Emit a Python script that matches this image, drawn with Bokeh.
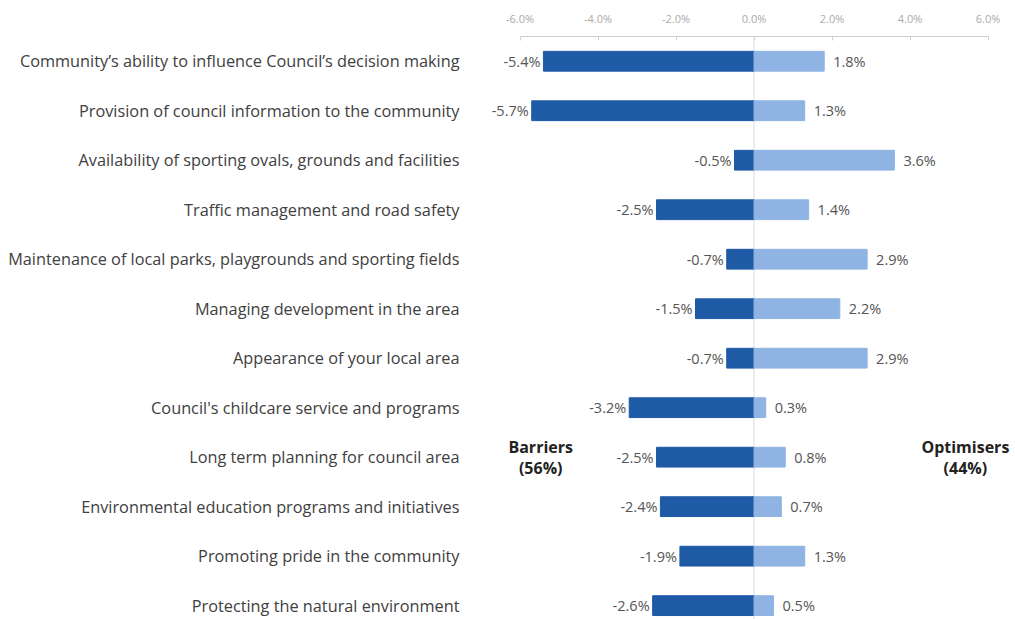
from bokeh.plotting import figure
from bokeh.models import ColumnDataSource, Range1d, FixedTicker, Span, Label, NumeralTickFormatter
from bokeh.core.properties import value
from bokeh.embed import file_html
from bokeh.resources import INLINE

categories = [
    "Community\u2019s ability to influence Council\u2019s decision making",
    "Provision of council information to the community",
    "Availability of sporting ovals, grounds and facilities",
    "Traffic management and road safety",
    "Maintenance of local parks, playgrounds and sporting fields",
    "Managing development in the area",
    "Appearance of your local area",
    "Council's childcare service and programs",
    "Long term planning for council area",
    "Environmental education programs and initiatives",
    "Promoting pride in the community",
    "Protecting the natural environment",
]
barriers = [-5.4, -5.7, -0.5, -2.5, -0.7, -1.5, -0.7, -3.2, -2.5, -2.4, -1.9, -2.6]
optimisers = [1.8, 1.3, 3.6, 1.4, 2.9, 2.2, 2.9, 0.3, 0.8, 0.7, 1.3, 0.5]
axis_ticks = [-6, -4, -2, 0, 2, 4, 6]

FONT = "Open Sans"
DARK = "#1f5aa6"
LIGHT = "#8fb3e2"

ypos = list(range(len(categories)))
src = ColumnDataSource(dict(
    y=ypos,
    neg=barriers,
    pos=optimisers,
    neg_lbl=[f"{v:.1f}%" for v in barriers],
    pos_lbl=[f"{v:.1f}%" for v in optimisers],
))

p = figure(width=1015, height=619, output_backend="svg", toolbar_location=None,
           x_range=Range1d(-7.27, 6.705), y_range=Range1d(11.28, -0.5),
           x_axis_location="above", min_border_left=470, min_border_top=36,
           min_border_right=0, min_border_bottom=0, outline_line_color=None)

p.add_layout(Span(location=0, dimension="height", line_color="#dcdcdc", line_width=1, level="underlay"))

p.hbar(y="y", left=0, right="neg", height=0.4, color=DARK, source=src)
p.hbar(y="y", left=0, right="pos", height=0.4, color=LIGHT, source=src)

p.text(x="neg", y="y", text="neg_lbl", source=src, text_align="right", text_baseline="middle",
       x_offset=-3, text_font=value(FONT), text_font_size="14.5px", text_color="#555555")
p.text(x="pos", y="y", text="pos_lbl", source=src, text_align="left", text_baseline="middle",
       x_offset=9, text_font=value(FONT), text_font_size="14.5px", text_color="#555555")

p.add_layout(Label(x=-5.47, y=8, text="Barriers\n(56%)", text_align="center", text_baseline="middle",
                   text_font=FONT, text_font_size="16px", text_font_style="bold", text_color="#222222",
                   text_line_height=0.95))
p.add_layout(Label(x=5.42, y=8, text="Optimisers\n(44%)", text_align="center", text_baseline="middle",
                   text_font=FONT, text_font_size="16px", text_font_style="bold", text_color="#222222",
                   text_line_height=0.95))

xa = p.xaxis[0]
xa.ticker = FixedTicker(ticks=axis_ticks)
xa.bounds = (-6, 6)
xa.formatter = NumeralTickFormatter(format="0.0")
xa.major_label_overrides = {t: f"{t:.1f}%" for t in axis_ticks}
xa.axis_line_color = "#d0d0d0"
xa.major_tick_line_color = "#d0d0d0"
xa.major_tick_in = 4
xa.major_tick_out = 0
xa.minor_tick_line_color = None
xa.major_label_standoff = 11
xa.major_label_text_font = FONT
xa.major_label_text_font_size = "11px"
xa.major_label_text_color = "#aaaaaa"

ya = p.yaxis[0]
ya.ticker = FixedTicker(ticks=ypos)
ya.major_label_overrides = {i: c for i, c in zip(ypos, categories)}
ya.axis_line_color = None
ya.major_tick_line_color = None
ya.minor_tick_line_color = None
ya.major_label_standoff = 5
ya.major_label_text_font = FONT
ya.major_label_text_font_size = "16.3px"
ya.major_label_text_color = "#404040"

p.xgrid.grid_line_color = None
p.ygrid.grid_line_color = None

open("out.html", "w").write(file_html(p, INLINE))
